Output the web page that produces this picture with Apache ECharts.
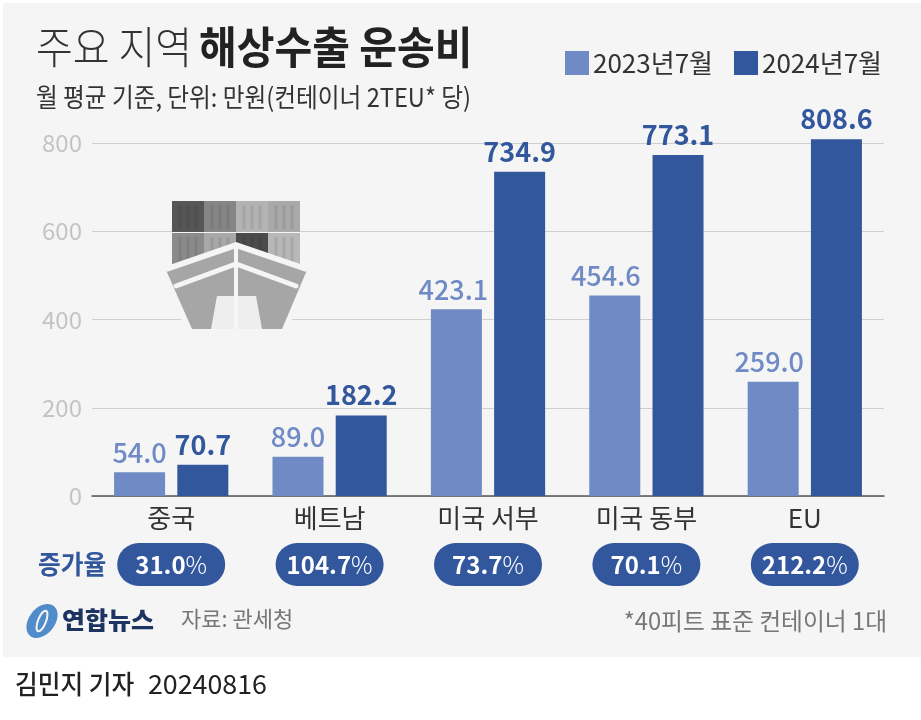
<!DOCTYPE html>
<html>
<head>
<meta charset="utf-8">
<style>html,body{margin:0;background:#fff}#container{width:921px;height:720px}</style>
<script src="https://cdn.jsdelivr.net/npm/echarts@6/dist/echarts.min.js"></script>
</head>
<body>
<div id="container"></div>
<script>
const regions = ['중국', '베트남', '미국 서부', '미국 동부', 'EU'];
const values2023 = [54.0, 89.0, 423.1, 454.6, 259.0];
const values2024 = [70.7, 182.2, 734.9, 773.1, 808.6];
const growthRates = ['31.0', '104.7', '73.7', '70.1', '212.2'];
const seriesNames = ['2023년7월', '2024년7월'];

const LIGHT = '#6f8ac5';
const DARK = '#32579d';
const FONT = '"Noto Sans CJK KR"';

// 옅은 막대 라벨은 원본에서 왼쪽으로 조금 밀려 있음
const lightLabelShift = [0, 0, -3, -9, -4];

// 글자 폭이 원본보다 넓어서 scaleX 로 줄임
function txt(x, y, text, size, weight, fill, sx, align) {
    return {
        type: 'text', x: x, y: y, scaleX: sx || 1, z: 20,
        style: {
            text: text, fill: fill,
            font: weight + ' ' + size + 'px ' + FONT,
            textAlign: align || 'left', textVerticalAlign: 'middle'
        }
    };
}
function box(x, y, w, h, fill) {
    return { type: 'rect', z: 10, shape: { x: x, y: y, width: w, height: h }, style: { fill: fill } };
}
function poly(points, fill, z) {
    return { type: 'polygon', z: z || 12, shape: { points: points }, style: { fill: fill } };
}
function bar(points) {
    return { type: 'polyline', z: 13, shape: { points: points }, style: { stroke: '#f5f5f5', lineWidth: 5, fill: 'none', lineCap: 'round' } };
}

/* 컨테이너선 그림 */
const shipColors = [
    ['#565656', '#858585', '#b3b3b3', '#a9a9a9'],
    ['#8a8a8a', '#a8a8a8', '#4b4b4b', '#b8b8b8']
];
const ship = [];
shipColors.forEach(function (row, r) {
    row.forEach(function (c, i) {
        const x = 172 + i * 32, y = 201 + r * 32;
        ship.push(box(x, y, 32, r === 1 && i === 2 ? 22 : 31, c));
        [8, 16, 24].forEach(function (dx) {
            ship.push({ type: 'rect', z: 11, shape: { x: x + dx - 1.5, y: y + 4, width: 3, height: 24 }, style: { fill: 'rgba(0,0,0,0.08)' } });
        });
    });
});
ship.push(poly([[161, 268], [236, 242], [312, 268], [287, 333], [186, 333]], '#f5f5f5', 11));
ship.push(poly([[166, 270], [236, 246], [307, 270], [282, 329], [192, 329]], '#a6a6a6', 12));
ship.push(poly([[217, 296], [256, 296], [262, 329], [211, 329]], '#eeeeee', 13));
ship.push(bar([[176, 286], [236, 264], [296, 286]]));
ship.push({ type: 'line', z: 13, shape: { x1: 236, y1: 246, x2: 236, y2: 329 }, style: { stroke: '#f5f5f5', lineWidth: 4 } });
ship.push({ type: 'polyline', z: 13, shape: { points: [[166, 270], [236, 246], [307, 270]] }, style: { stroke: '#f5f5f5', lineWidth: 4, fill: 'none' } });

const myChart = echarts.init(document.getElementById('container'));
const option = {
    animation: false,
    backgroundColor: '#ffffff',
    textStyle: { fontFamily: FONT },
    // 808.6 이 800 눈금 위로 나가므로 축은 820 까지
    grid: { left: 92, right: 37, top: 134.2, height: 361.8 },
    legend: {
        top: 45, left: 560, itemGap: 21, itemWidth: 24, itemHeight: 24, icon: 'rect',
        textStyle: { fontSize: 26, color: '#333', padding: [0, 0, 0, -1] },
        data: seriesNames
    },
    xAxis: [
        {
            type: 'category', data: regions,
            axisTick: { show: false },
            axisLine: { lineStyle: { color: '#555', width: 1.5 } },
            axisLabel: { fontSize: 26, color: '#333', margin: 9, interval: 0 }
        },
        {
            type: 'category', data: growthRates, position: 'bottom', offset: 47,
            axisTick: { show: false }, axisLine: { show: false },
            axisLabel: {
                interval: 0, margin: 0,
                backgroundColor: DARK, borderRadius: 22,
                width: 108, height: 43, align: 'center', verticalAlign: 'top',
                formatter: function (v) { return '{n|' + v + '}{p|%}'; },
                rich: {
                    n: { fontSize: 24, fontWeight: 700, color: '#fff', lineHeight: 43 },
                    p: { fontSize: 24, fontWeight: 300, color: '#fff', lineHeight: 43 }
                }
            }
        }
    ],
    yAxis: {
        type: 'value', min: 0, max: 820, interval: 200,
        axisLine: { show: false }, axisTick: { show: false },
        axisLabel: {
            fontSize: 24, margin: 10, showMaxLabel: false,
            color: function (v) { return v === 0 ? '#444' : '#c4c4c4'; }
        },
        splitLine: { showMaxLine: false, lineStyle: { color: '#cfcfcf', width: 1.2 } }
    },
    series: [
        {
            name: seriesNames[0], type: 'bar', data: values2023,
            barWidth: 51, barGap: '24%',
            itemStyle: { color: LIGHT },
            label: { show: true, position: 'top', distance: 6, fontSize: 27, fontWeight: 500, color: LIGHT, formatter: function (p) { return p.value.toFixed(1); } },
            labelLayout: function (params) { return { dx: lightLabelShift[params.dataIndex] }; }
        },
        {
            name: seriesNames[1], type: 'bar', data: values2024,
            barWidth: 51,
            itemStyle: { color: DARK },
            label: { show: true, position: 'top', distance: 7, fontSize: 27, fontWeight: 700, color: DARK, formatter: function (p) { return p.value.toFixed(1); } }
        }
    ],
    graphic: [
        { type: 'rect', z: -10, shape: { x: 3, y: 3, width: 918, height: 654 }, style: { fill: '#f5f5f5' } },
        txt(36, 47, '주요 지역', 44, 300, '#333', 0.91),
        txt(199, 47, '해상수출 운송비', 44, 700, '#222', 0.932),
        txt(36, 97, '월 평균 기준, 단위: 만원(컨테이너 2TEU* 당)', 26, 400, '#333', 0.91),
        txt(38, 564, '증가율', 26, 700, DARK, 0.95),
        { type: 'ellipse', z: 12, rotation: 0.9, x: 42, y: 621, shape: { cx: 0, cy: 0, rx: 19, ry: 13 }, style: { fill: '#4f8cc9' } },
        { type: 'ellipse', z: 13, rotation: 1.2, x: 42, y: 621, shape: { cx: 0, cy: 0, rx: 11, ry: 4 }, style: { fill: 'none', stroke: '#f5f5f5', lineWidth: 2 } },
        txt(62, 620, '연합뉴스', 24, 900, '#1d3461', 1.04),
        txt(181, 619, '자료: 관세청', 22, 400, '#777', 1),
        txt(887, 621, '*40피트 표준 컨테이너 1대', 24, 400, '#777', 0.99, 'right'),
        txt(15, 684, '김민지 기자', 26, 500, '#222', 0.95),
        txt(148, 684, '20240816', 26, 400, '#222', 1.03)
    ].concat(ship)
};
myChart.setOption(option);
</script>
</body>
</html>
